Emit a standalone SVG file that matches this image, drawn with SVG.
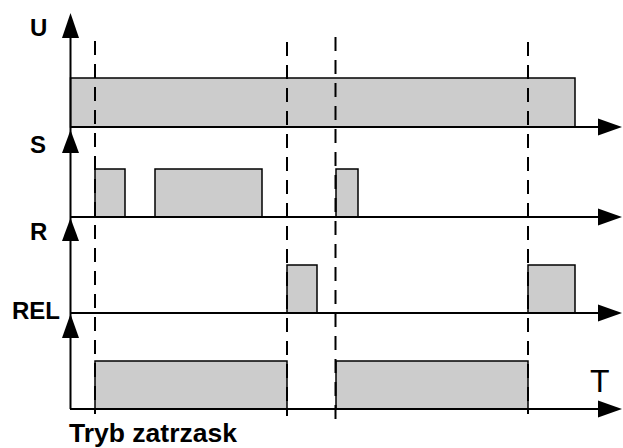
<svg xmlns="http://www.w3.org/2000/svg" width="623" height="448" viewBox="0 0 623 448">
<defs>
<style>
.lbl{font-family:"Liberation Sans",Arial,sans-serif;font-weight:bold;font-size:24px;fill:#000}
.pulse{fill:#cccccc;stroke:#000;stroke-width:1.5}
.axis{stroke:#000;stroke-width:2;fill:none}
.dash{stroke:#000;stroke-width:2;stroke-dasharray:14 9;fill:none}
.head{fill:#000}
</style>
</defs>
<rect width="623" height="448" fill="#fff"/>
<g id="pulses">
<rect class="pulse" x="70.5" y="78" width="504.5" height="49"/>
<rect class="pulse" x="95" y="169" width="30" height="48"/>
<rect class="pulse" x="155" y="169" width="107" height="48"/>
<rect class="pulse" x="336" y="169" width="22" height="48"/>
<rect class="pulse" x="287" y="265" width="30" height="48"/>
<rect class="pulse" x="528" y="265" width="47" height="48"/>
<rect class="pulse" x="95" y="361" width="192" height="48"/>
<rect class="pulse" x="336" y="361" width="192" height="48"/>
</g>
<g id="connectors">
<line class="axis" x1="70.5" y1="30" x2="70.5" y2="409"/>
<line class="axis" x1="70" y1="127" x2="600" y2="127"/>
<line class="axis" x1="70" y1="217" x2="600" y2="217"/>
<line class="axis" x1="70" y1="313" x2="600" y2="313"/>
<line class="axis" x1="70" y1="409" x2="600" y2="409"/>
<polygon class="head" points="70.5,13 62,38 79,38"/>
<polygon class="head" points="70.5,130 62,153 79,153"/>
<polygon class="head" points="70.5,218 62,241 79,241"/>
<polygon class="head" points="70.5,314 62,338 79,338"/>
<polygon class="head" points="622,127 598,118.5 598,135.5"/>
<polygon class="head" points="622,217 598,208.5 598,225.5"/>
<polygon class="head" points="622,313 598,304.5 598,321.5"/>
<polygon class="head" points="622,409 598,400.5 598,417.5"/>
<line class="dash" x1="95" y1="41" x2="95" y2="414"/>
<line class="dash" x1="287" y1="42" x2="287" y2="416"/>
<line class="dash" x1="335.5" y1="37" x2="335.5" y2="421"/>
<line class="dash" x1="528" y1="42" x2="528" y2="414"/>
</g>
<g id="labels">
<text class="lbl" x="30" y="36">U</text>
<text class="lbl" x="30" y="153">S</text>
<text class="lbl" x="30" y="240">R</text>
<text class="lbl" x="12" y="319">REL</text>
<text x="590" y="392" font-family="Liberation Sans,Arial,sans-serif" font-size="32">T</text>
<text class="lbl" x="69" y="442" style="font-size:26.5px">Tryb zatrzask</text>
</g>
</svg>
